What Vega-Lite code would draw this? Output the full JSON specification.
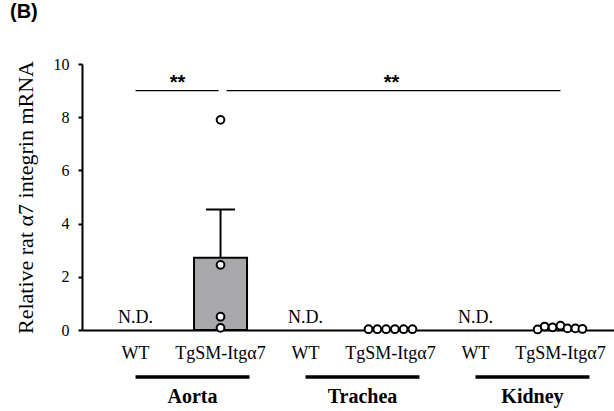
{
  "$schema": "https://vega.github.io/schema/vega-lite/v6.json",
  "width": 532,
  "height": 266,
  "autosize": "none",
  "padding": {"left": 82, "top": 64, "right": 0, "bottom": 81},
  "background": "white",
  "title": {"text": "(B)", "anchor": "start", "frame": "group", "dx": -72, "offset": 34, "font": "Liberation Sans", "fontWeight": "bold", "fontSize": 20, "color": "black"},
  "config": {"view": {"stroke": null}},
  "resolve": {"axis": {"x": "independent", "y": "independent"}},
  "datasets": {
    "pts": [
      {"cat": "A-Tg", "tissue": "Aorta", "value": 7.9, "k": 0},
      {"cat": "A-Tg", "tissue": "Aorta", "value": 2.45, "k": 0},
      {"cat": "A-Tg", "tissue": "Aorta", "value": 0.5, "k": 0},
      {"cat": "A-Tg", "tissue": "Aorta", "value": 0.08, "k": 0},
      {"cat": "T-Tg", "tissue": "Trachea", "value": 0.03, "k": -2.5},
      {"cat": "T-Tg", "tissue": "Trachea", "value": 0.03, "k": -1.5},
      {"cat": "T-Tg", "tissue": "Trachea", "value": 0.03, "k": -0.5},
      {"cat": "T-Tg", "tissue": "Trachea", "value": 0.03, "k": 0.5},
      {"cat": "T-Tg", "tissue": "Trachea", "value": 0.03, "k": 1.5},
      {"cat": "T-Tg", "tissue": "Trachea", "value": 0.03, "k": 2.5},
      {"cat": "K-Tg", "tissue": "Kidney", "value": 0.02, "k": -2.6},
      {"cat": "K-Tg", "tissue": "Kidney", "value": 0.13, "k": -1.8},
      {"cat": "K-Tg", "tissue": "Kidney", "value": 0.1, "k": -0.9},
      {"cat": "K-Tg", "tissue": "Kidney", "value": 0.16, "k": 0},
      {"cat": "K-Tg", "tissue": "Kidney", "value": 0.06, "k": 0.8},
      {"cat": "K-Tg", "tissue": "Kidney", "value": 0.06, "k": 1.7},
      {"cat": "K-Tg", "tissue": "Kidney", "value": 0.04, "k": 2.5}
    ],
    "summary": [
      {"cat": "A-Tg", "mean": 2.72, "upper": 4.53}
    ],
    "nd": [
      {"cat": "A-WT", "label": "N.D."},
      {"cat": "T-WT", "label": "N.D."},
      {"cat": "K-WT", "label": "N.D."}
    ],
    "groups": [
      {"from": "A-WT", "to": "A-Tg", "tissue": "Aorta"},
      {"from": "T-WT", "to": "T-Tg", "tissue": "Trachea"},
      {"from": "K-WT", "to": "K-Tg", "tissue": "Kidney"}
    ]
  },
  "layer": [
    {
      "data": {"name": "summary"},
      "mark": {"type": "bar", "fill": "#a8a8ab", "stroke": "black", "strokeWidth": 2, "width": 53},
      "encoding": {
        "x": {
          "field": "cat",
          "type": "nominal",
          "scale": {"domain": ["A-WT", "A-Tg", "T-WT", "T-Tg", "K-WT", "K-Tg"], "paddingInner": 0.38, "paddingOuter": 0.32},
          "axis": {
            "title": null,
            "labelExpr": "indexof(datum.value, 'WT') >= 0 ? 'WT' : 'TgSM-Itgα7'",
            "labelAngle": 0,
            "ticks": false,
            "domainColor": "black",
            "domainWidth": 2,
            "labelFont": "Liberation Serif",
            "labelFontSize": 18,
            "labelColor": "black",
            "labelPadding": 14
          }
        },
        "y": {
          "field": "mean",
          "type": "quantitative",
          "scale": {"domain": [0, 10]},
          "axis": {
            "values": [0, 2, 4, 6, 8, 10],
            "grid": false,
            "title": "Relative rat α7 integrin mRNA",
            "titleFont": "Liberation Serif",
            "titleFontSize": 22,
            "titleFontWeight": "normal",
            "titleColor": "black",
            "titlePadding": 16,
            "labelFont": "Liberation Serif",
            "labelFontSize": 16,
            "labelColor": "black",
            "labelPadding": 9,
            "tickSize": 4,
            "tickWidth": 2,
            "tickColor": "black",
            "domainColor": "black",
            "domainWidth": 2
          }
        }
      }
    },
    {
      "data": {"name": "summary"},
      "mark": {"type": "rule", "stroke": "black", "strokeWidth": 2},
      "encoding": {
        "x": {"field": "cat", "type": "nominal", "axis": null},
        "y": {"field": "mean", "type": "quantitative", "axis": null},
        "y2": {"field": "upper"}
      }
    },
    {
      "data": {"name": "summary"},
      "mark": {"type": "tick", "color": "black", "size": 29, "thickness": 2, "opacity": 1},
      "encoding": {
        "x": {"field": "cat", "type": "nominal", "axis": null},
        "y": {"field": "upper", "type": "quantitative", "axis": null}
      }
    },
    {
      "data": {"name": "pts"},
      "mark": {"type": "point", "shape": "circle", "filled": false, "fill": "white", "fillOpacity": 1, "stroke": "black", "strokeWidth": 2, "size": 60, "opacity": 1},
      "encoding": {
        "x": {"field": "cat", "type": "nominal", "axis": null},
        "y": {"field": "value", "type": "quantitative", "axis": null},
        "xOffset": {"field": "k", "type": "quantitative", "scale": {"domain": [-3, 3]}}
      }
    },
    {
      "data": {"name": "nd"},
      "mark": {"type": "text", "font": "Liberation Serif", "fontSize": 18, "color": "black", "baseline": "alphabetic", "dy": -7},
      "encoding": {
        "x": {"field": "cat", "type": "nominal", "axis": null},
        "text": {"field": "label"},
        "y": {"datum": 0, "type": "quantitative", "axis": null}
      }
    },
    {
      "data": {"values": [{"from": "A-WT", "to": "A-Tg"}]},
      "mark": {"type": "rule", "stroke": "black", "strokeWidth": 1.2, "x2Offset": -2},
      "encoding": {
        "x": {"field": "from", "type": "nominal", "axis": null},
        "x2": {"field": "to"},
        "y": {"datum": 9, "type": "quantitative", "axis": null}
      }
    },
    {
      "data": {"values": [{"from": "A-Tg", "to": "K-Tg"}]},
      "mark": {"type": "rule", "stroke": "black", "strokeWidth": 1.2, "xOffset": 6},
      "encoding": {
        "x": {"field": "from", "type": "nominal", "axis": null},
        "x2": {"field": "to"},
        "y": {"datum": 9, "type": "quantitative", "axis": null}
      }
    },
    {
      "data": {"values": [{"at": "A-WT", "label": "**"}]},
      "mark": {"type": "text", "font": "Liberation Sans", "fontWeight": "bold", "fontSize": 20, "color": "black", "baseline": "alphabetic", "dy": -2, "dx": 42},
      "encoding": {
        "x": {"field": "at", "type": "nominal", "axis": null},
        "text": {"field": "label"},
        "y": {"datum": 9, "type": "quantitative", "axis": null}
      }
    },
    {
      "data": {"values": [{"at": "T-Tg", "label": "**"}]},
      "mark": {"type": "text", "font": "Liberation Sans", "fontWeight": "bold", "fontSize": 20, "color": "black", "baseline": "alphabetic", "dy": -2, "dx": 1},
      "encoding": {
        "x": {"field": "at", "type": "nominal", "axis": null},
        "text": {"field": "label"},
        "y": {"datum": 9, "type": "quantitative", "axis": null}
      }
    },
    {
      "data": {"name": "groups"},
      "mark": {"type": "rule", "stroke": "black", "strokeWidth": 3.5, "x2Offset": 29},
      "encoding": {
        "x": {"field": "from", "type": "nominal", "axis": null},
        "x2": {"field": "to"},
        "y": {"datum": -1.77, "type": "quantitative", "axis": null}
      }
    },
    {
      "data": {"name": "groups"},
      "mark": {"type": "text", "font": "Liberation Serif", "fontWeight": "bold", "fontSize": 20, "color": "black", "baseline": "middle", "dx": -28},
      "encoding": {
        "x": {"field": "to", "type": "nominal", "axis": null},
        "text": {"field": "tissue"},
        "y": {"datum": -2.5, "type": "quantitative", "axis": null}
      }
    }
  ]
}
